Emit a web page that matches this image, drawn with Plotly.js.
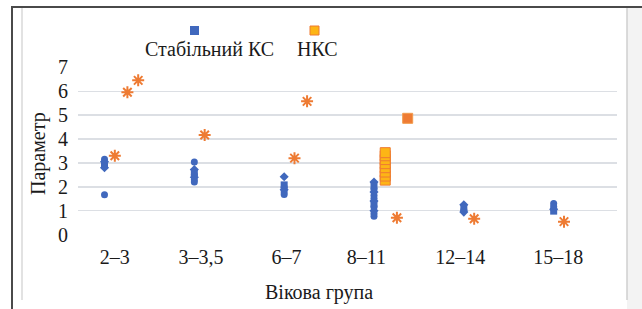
<!DOCTYPE html>
<html><head><meta charset="utf-8">
<script src="https://cdn.plot.ly/plotly-3.0.1.min.js"></script>
<style>
html,body{margin:0;padding:0;background:#fff}#chart{width:642px;height:309px}
</style>
</head><body><div id="chart"></div>
<script>
// ---- data ----
const groups = ['2–3','3–3,5','6–7','8–11','12–14','15–18'];
const stableKS = [
  [3.15, 3.05, 2.95, 2.88, 2.8, 1.67],
  [3.04, 2.72, 2.6, 2.5, 2.4, 2.3, 2.2],
  [2.42, 2.08, 1.98, 1.88, 1.78, 1.68],
  [2.2, 2.05, 1.9, 1.78, 1.65, 1.52, 1.4, 1.28, 1.15, 1.0, 0.88, 0.77],
  [1.25, 1.12, 1.02, 0.94],
  [1.3, 1.17, 1.06, 0.98]
];
const nksCrossA = [[3.3], [4.17], [3.2], [], [0.66], [0.54]];
const nksCrossB = [[5.96], [], [5.58], [0.7], [], []];
const nksCrossC = [[6.46], [], [], [], [], []];
const nksColumn = [[], [], [], [2.28, 2.45, 2.62, 2.8, 2.97, 3.14, 3.3, 3.43], [], []];
const nksSquare = [[], [], [], [4.87], [], []];
const legendNames = ['Стабільний КС', 'НКС'];
const yTitle = 'Параметр';
const xTitle = 'Вікова група';

// ---- styling ----
const BLUE = '#4068bd', ORANGE = '#ee7b33', GOLD = '#fdb515';
const FONT = 'Liberation Serif';
const FS = 20;
const TXT = '#1a1a1a';
const slot = {blue: -0.205, a: -0.09, col: -0.08, b: 0.05, c: 0.17};
const labelNudge = [-0.09, -0.13, -0.18, -0.29, -0.245, -0.155];

function flat(arr, off) {
  const x = [], y = [];
  arr.forEach((vals, i) => vals.forEach(v => { x.push(i + off); y.push(v); }));
  return {x, y};
}
const blueSyms = ['circle', 'diamond', 'square', 'circle', 'diamond', 'circle'];
const b = flat(stableKS, slot.blue);
const cross = {color: ORANGE, size: 10, symbol: 'asterisk-open', line: {color: ORANGE, width: 2}};
const traces = [
  {x: b.x, y: b.y, type: 'scatter', mode: 'markers', name: legendNames[0],
   marker: {color: BLUE, size: 7, symbol: b.x.map((_, k) => blueSyms[k % blueSyms.length])}},
  Object.assign(flat(nksColumn, slot.col), {type: 'scatter', mode: 'markers', name: legendNames[1],
   marker: {color: GOLD, size: 10, symbol: 'square', line: {color: ORANGE, width: 1}}}),
  Object.assign(flat(nksSquare, slot.c), {type: 'scatter', mode: 'markers', name: legendNames[1],
   marker: {color: ORANGE, size: 10, symbol: 'square', line: {color: '#f29a4a', width: 1}}}),
  Object.assign(flat(nksCrossA, slot.a), {type: 'scatter', mode: 'markers', name: legendNames[1], marker: cross}),
  Object.assign(flat(nksCrossB, slot.b), {type: 'scatter', mode: 'markers', name: legendNames[1], marker: cross}),
  Object.assign(flat(nksCrossC, slot.c), {type: 'scatter', mode: 'markers', name: legendNames[1], marker: cross})
];

// plot area: x 78..617 px, y 67..235 px
const L = 78, R = 617, T = 67, B = 235;
const px = p => (p - L) / (R - L);
const py = p => (B - p) / (B - T);
const ann = (x, y, text, extra) => Object.assign({xref: 'paper', yref: 'paper', x: px(x), y: py(y), text,
  showarrow: false, xanchor: 'center', yanchor: 'middle', font: {family: FONT, size: FS, color: TXT}}, extra || {});

const layout = {
  width: 642, height: 309,
  margin: {l: L, r: 642 - R, t: T, b: 309 - B, pad: 0},
  paper_bgcolor: '#fff', plot_bgcolor: '#fff',
  showlegend: false,
  font: {family: FONT, size: FS, color: TXT},
  xaxis: {range: [-0.5, 5.5], tickvals: groups.map((g, i) => i + labelNudge[i]), ticktext: groups,
          showgrid: false, zeroline: false, showline: false, ticks: '', ticklabelstandoff: 8,
          tickfont: {family: FONT, size: FS, color: TXT}},
  yaxis: {range: [-0.02, 7.02], tickvals: [0,1,2,3,4,5,6,7], showgrid: true, gridcolor: '#dcdfe4', gridwidth: 1.5,
          zeroline: false, showline: false, ticks: '', ticklabelstandoff: 9,
          tickfont: {family: FONT, size: FS, color: TXT}},
  annotations: [
    ann(38, 154, yTitle, {textangle: -90}),
    ann(319, 292, xTitle),
    ann(209, 49, legendNames[0]),
    ann(317, 49, legendNames[1])
  ],
  shapes: [
    {type: 'rect', xref: 'paper', yref: 'paper', x0: px(190), x1: px(199), y0: py(35), y1: py(26),
     fillcolor: BLUE, line: {width: 0}},
    {type: 'rect', xref: 'paper', yref: 'paper', x0: px(310), x1: px(319), y0: py(35), y1: py(26),
     fillcolor: GOLD, line: {color: ORANGE, width: 1}},
    {type: 'rect', xref: 'paper', yref: 'paper', x0: px(627), x1: px(642), y0: py(8), y1: py(309),
     fillcolor: '#f3f3f3', line: {width: 0}, layer: 'below'},
    {type: 'line', xref: 'paper', yref: 'paper', x0: px(627), x1: px(627), y0: py(8), y1: py(300),
     line: {color: '#cfcfcf', width: 1.5}},
    {type: 'line', xref: 'paper', yref: 'paper', x0: px(22), x1: px(22), y0: py(8), y1: py(300),
     line: {color: '#d8d8d8', width: 1.5}},
    {type: 'line', xref: 'paper', yref: 'paper', x0: px(12), x1: px(12), y0: py(7), y1: py(309),
     line: {color: '#4a4a4a', width: 2}},
    {type: 'line', xref: 'paper', yref: 'paper', x0: px(11), x1: px(642), y0: py(7), y1: py(7),
     line: {color: '#4a4a4a', width: 2}}
  ]
};
Plotly.newPlot('chart', traces, layout, {staticPlot: true, displayModeBar: false});
</script>
</body></html>
